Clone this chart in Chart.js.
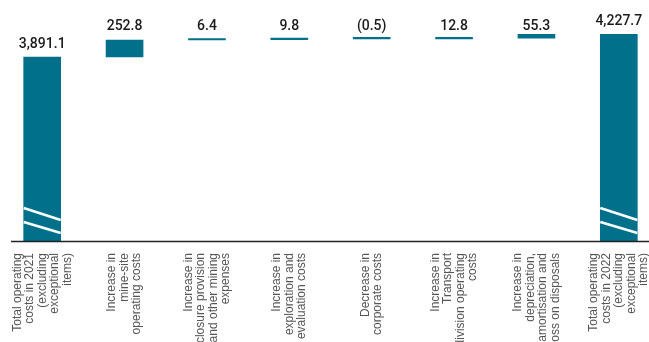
<!DOCTYPE html>
<html>
<head>
<meta charset="utf-8">
<script src="https://cdn.jsdelivr.net/npm/chart.js@4.4.1/dist/chart.umd.min.js"></script>
<style>
  html, body { margin: 0; padding: 0; background: #fff; overflow: hidden; }
  #wrap { width: 662px; height: 342px; }
</style>
</head>
<body>
<div id="wrap"><canvas id="bridgeChart" width="662" height="342"></canvas></div>
<script>
// Datos del puente de costes operativos 2021 -> 2022
const categories = [
  ['Total operating', 'costs in 2021', '(excluding', 'exceptional', 'items)'],
  ['Increase in', 'mine-site', 'operating costs'],
  ['Increase in', 'closure provision', 'and other mining', 'expenses'],
  ['Increase in', 'exploration and', 'evaluation costs'],
  ['Decrease in', 'corporate costs'],
  ['Increase in', 'Transport', 'division operating', 'costs'],
  ['Increase in', 'depreciation,', 'amortisation and', 'loss on disposals'],
  ['Total operating', 'costs in 2022', '(excluding', 'exceptional', 'items)']
];
const changes = [3891.1, 252.8, 6.4, 9.8, -0.5, 12.8, 55.3, 4227.7];
const totalIndexes = [0, 7];
const axisMin = 1155;
const axisMax = 4441;

const TEAL = '#01718b';

// rangos flotantes [inicio, fin] para cada barra
let running = 0;
const ranges = changes.map((v, i) => {
  if (totalIndexes.includes(i)) {
    running = v;
    return [0, v];
  }
  const r = [running, running + v];
  running += v;
  return r;
});

function fmt(v) {
  const s = Math.abs(v).toLocaleString('en-US', { minimumFractionDigits: 1, maximumFractionDigits: 1 });
  return v < 0 ? '(' + s + ')' : s;
}

const bridgeDecor = {
  id: 'bridgeDecor',
  afterDatasetsDraw(chart) {
    const ctx = chart.ctx;
    const area = chart.chartArea;
    const meta = chart.getDatasetMeta(0);

    // linea base
    ctx.save();
    ctx.strokeStyle = '#222';
    ctx.lineWidth = 1.5;
    ctx.beginPath();
    ctx.moveTo(11, area.bottom + 0.5);
    ctx.lineTo(649, area.bottom + 0.5);
    ctx.stroke();

    // marcas de corte en los totales
    ctx.strokeStyle = '#fff';
    ctx.lineWidth = 2.5;
    totalIndexes.forEach(i => {
      const bar = meta.data[i];
      const l = bar.x - bar.width / 2, r = bar.x + bar.width / 2, b = area.bottom;
      ctx.beginPath();
      ctx.moveTo(l, b - 33); ctx.lineTo(r, b - 21);
      ctx.moveTo(l, b - 19); ctx.lineTo(r, b - 8);
      ctx.stroke();
    });

    // valores
    ctx.fillStyle = '#1a1a1a';
    ctx.font = '500 14px Roboto';
    ctx.textAlign = 'center';
    ctx.textBaseline = 'alphabetic';
    meta.data.forEach((bar, i) => {
      const top = Math.min(bar.y, bar.base);
      const y = totalIndexes.includes(i) ? top - 9 : 30;
      ctx.fillText(fmt(changes[i]), bar.x, y);
    });

    // etiquetas de categoria giradas
    ctx.fillStyle = '#555';
    ctx.font = '12px "Liberation Sans"';
    ctx.textAlign = 'right';
    ctx.textBaseline = 'middle';
    meta.data.forEach((bar, i) => {
      const lines = categories[i];
      ctx.save();
      ctx.translate(bar.x, area.bottom + 12);
      ctx.rotate(-Math.PI / 2);
      lines.forEach((line, j) => {
        ctx.fillText(line, 0, (j - (lines.length - 1) / 2) * 12.5);
      });
      ctx.restore();
    });
    ctx.restore();
  }
};

new Chart(document.getElementById('bridgeChart'), {
  type: 'bar',
  data: {
    labels: categories.map(c => c.join(' ')),
    datasets: [{
      data: ranges,
      backgroundColor: TEAL,
      borderWidth: 0,
      barThickness: 37,
      minBarLength: 1.5
    }]
  },
  options: {
    responsive: false,
    animation: false,
    devicePixelRatio: 1,
    layout: { padding: { left: 1, right: 2, top: 20, bottom: 101 } },
    plugins: { legend: { display: false }, tooltip: { enabled: false } },
    scales: {
      x: { display: false, offset: true },
      y: { display: false, min: axisMin, max: axisMax }
    }
  },
  plugins: [bridgeDecor]
});
</script>
</body>
</html>
